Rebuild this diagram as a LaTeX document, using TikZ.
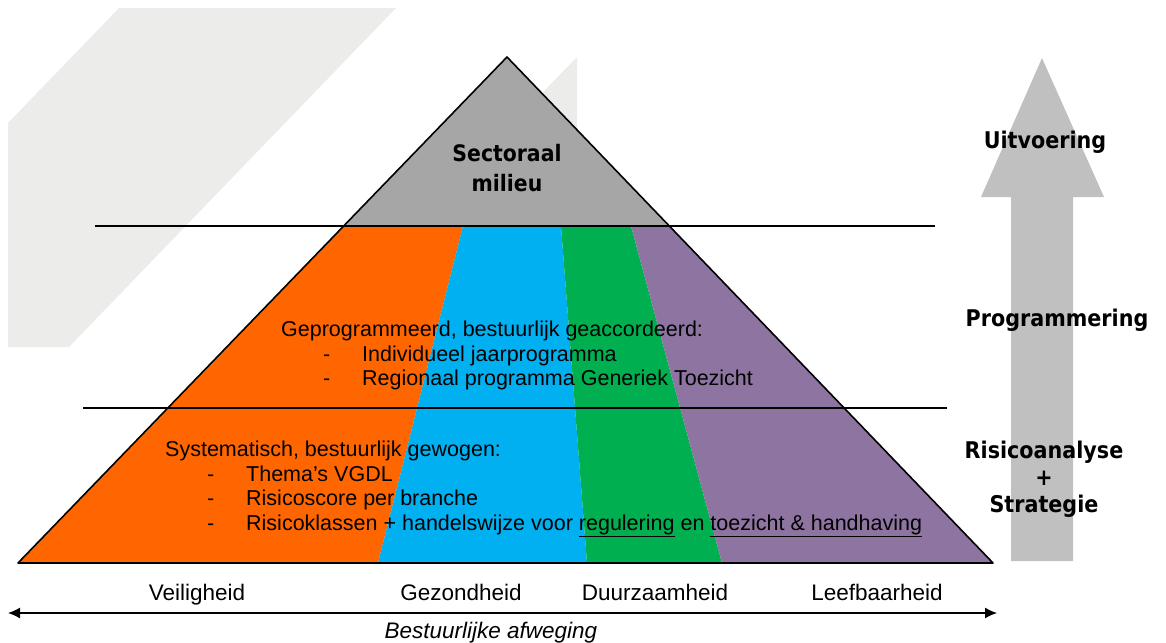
\documentclass[tikz,border=0pt]{standalone}
\usepackage{fontspec}
\setmainfont{Liberation Sans}
\newfontfamily\boldlabel{DejaVu Sans}[FakeStretch=0.9]
\usetikzlibrary{arrows.meta,calc}

\definecolor{veilig}{HTML}{FF6600}
\definecolor{gezond}{HTML}{00B0F0}
\definecolor{duurzaam}{HTML}{00B050}
\definecolor{leefbaar}{HTML}{8E74A1}
\definecolor{sector}{HTML}{A6A6A6}
\definecolor{pijl}{HTML}{C0C0C0}
\definecolor{vlak}{HTML}{ECEDEB}

\newcommand{\streep}{\hspace*{42pt}\makebox[39pt][l]{-}}

\begin{document}
\begin{tikzpicture}[x=1pt, y=-1pt, align=center,
  laag/.style={font={\boldlabel\bfseries\fontsize{23}{27}\selectfont}, inner sep=0pt},
  as/.style={font={\fontsize{22.5}{26}\selectfont}, inner sep=0pt, anchor=base},
  blok/.style={font={\fontsize{21.5}{24.5}\selectfont}, inner sep=0pt, align=left, anchor=north west}]

  \useasboundingbox (0, 0) rectangle (1166, 642);

  \fill[vlak] (119, 8) -- (396, 8) -- (69, 347) -- (8, 347) -- (8, 123) -- cycle;

  \fill[vlak] (577, 57) -- (577, 226) -- (413, 226) -- cycle;

  \fill[pijl] (1011, 561) -- (1011, 197) -- (981, 197) -- (1042, 58) -- (1104, 197) -- (1073, 197) -- (1073, 561) -- cycle;

  \coordinate (apex) at (507, 57);
  \coordinate (base-left) at (18, 563);
  \coordinate (base-right) at (993, 563);
  \coordinate (top-left) at ($(apex)!0.334!(base-left)$);
  \coordinate (top-right) at ($(apex)!0.334!(base-right)$);

  \fill[sector] (apex) -- (top-right) -- (top-left) -- cycle;
  \fill[veilig] (top-left) -- (463, 226) -- (378, 563) -- (base-left) -- cycle;
  \fill[gezond] (463, 226) -- (561, 226) -- (587, 563) -- (378, 563) -- cycle;
  \fill[duurzaam] (561, 226) -- (631, 226) -- (722, 563) -- (587, 563) -- cycle;
  \fill[leefbaar] (631, 226) -- (top-right) -- (base-right) -- (722, 563) -- cycle;

  \draw[line width=1.6pt, line join=round] (base-left) -- (apex) -- (base-right) -- cycle;

  \draw[line width=1.3pt] (95, 226) -- (935, 226);
  \draw[line width=1.3pt] (83, 408) -- (947, 408);

  \node (sectoraal) at (507, 168.5) [laag, font={\boldlabel\bfseries\fontsize{22.7}{30}\selectfont}] {Sectoraal\\milieu};

  \node (geprogrammeerd) at (281, 321) [blok] {Geprogrammeerd, bestuurlijk geaccordeerd:\\
    \streep Individueel jaarprogramma\\
    \streep Regionaal programma Generiek Toezicht};

  \node (systematisch) at (165, 441) [blok] {Systematisch, bestuurlijk gewogen:\\
    \streep Thema's VGDL\\
    \streep Risicoscore per branche\\
    \streep Risicoklassen + handelswijze voor \underline{regulering} en \underline{toezicht \& handhaving}};

  \node (uitvoering) at (1045, 148) [laag, anchor=base] {Uitvoering};

  \node (programmering) at (1057, 326) [laag, anchor=base] {Programmering};

  \node (risicoanalyse) at (1044, 479) [laag] {Risicoanalyse\\+\\Strategie};

  \node (veiligheid) at (197, 600) [as] {Veiligheid};
  \node (gezondheid) at (461, 600) [as] {Gezondheid};
  \node (duurzaamheid) at (655, 600) [as] {Duurzaamheid};
  \node (leefbaarheid) at (877, 600) [as] {Leefbaarheid};

  \coordinate (axis-west) at (8, 613);
  \coordinate (axis-east) at (997, 613);

  \draw[{Latex[length=12pt, width=11pt]}-{Latex[length=12pt, width=11pt]}, line width=1.3pt] (axis-west) -- (axis-east);

  \node (afweging) at (491, 638) [as, font={\itshape\fontsize{22.5}{26}\selectfont}] {Bestuurlijke afweging};

\end{tikzpicture}
\end{document}
